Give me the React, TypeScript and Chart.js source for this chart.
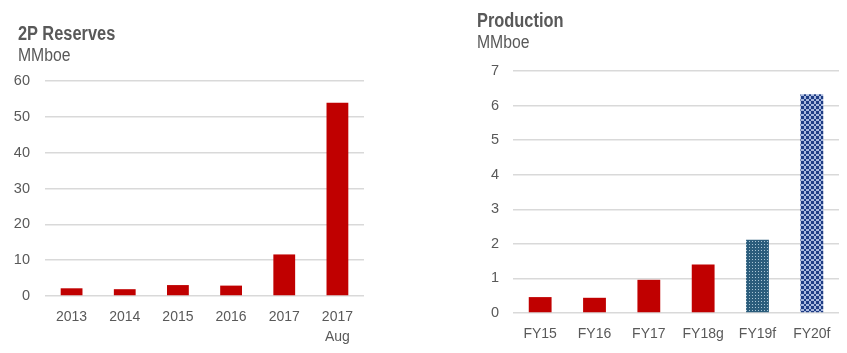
import React, { useEffect, useRef } from "react";
import { Chart, registerables } from "chart.js";

Chart.register(...registerables);

const reserveLabels = [["2013"], ["2014"], ["2015"], ["2016"], ["2017"], ["2017", "Aug"]];
const reserveValues = [2.15, 1.9, 3.05, 2.9, 11.6, 53.9];
const reserveTicks = [0, 10, 20, 30, 40, 50, 60];

const prodLabels = ["FY15", "FY16", "FY17", "FY18g", "FY19f", "FY20f"];
const prodValues = [0.46, 0.44, 0.96, 1.4, 2.12, 6.33];
const prodTicks = [0, 1, 2, 3, 4, 5, 6, 7];

const RED = "#C00000";
const TEXT = "#595959";
const GRID = "#D9D9D9";
const SANS = "'Liberation Sans', Arial, sans-serif";

function dotPattern(): CanvasPattern | string {
  const c = document.createElement("canvas");
  c.width = 3;
  c.height = 3;
  const ctx = c.getContext("2d");
  if (!ctx) return "#2B5D7C";
  ctx.fillStyle = "#2B5D7C";
  ctx.fillRect(0, 0, 3, 3);
  ctx.fillStyle = "#A9C6D6";
  ctx.fillRect(1, 1, 1, 1);
  const p = ctx.createPattern(c, "repeat");
  return p || "#2B5D7C";
}

function circlePattern(): CanvasPattern | string {
  const c = document.createElement("canvas");
  c.width = 5;
  c.height = 5;
  const ctx = c.getContext("2d");
  if (!ctx) return "#1F3D85";
  ctx.fillStyle = "#1F3D85";
  ctx.fillRect(0, 0, 5, 5);
  ctx.fillStyle = "#A8B8DE";
  ctx.fillRect(1, 0, 3, 1);
  ctx.fillRect(0, 1, 1, 3);
  ctx.fillRect(4, 1, 1, 3);
  ctx.fillRect(1, 4, 3, 1);
  const p = ctx.createPattern(c, "repeat");
  return p || "#1F3D85";
}

function makeOptions(ticks: number[], yWidth: number, xHeight: number, padding: any, yPad: number) {
  return {
    responsive: false,
    animation: false as const,
    layout: { padding },
    plugins: { legend: { display: false }, tooltip: { enabled: false }, title: { display: false } },
    scales: {
      x: {
        grid: { display: false, drawTicks: false },
        border: { display: false },
        ticks: { color: TEXT, font: { family: SANS, size: 14, lineHeight: 1.43 }, padding: 11, maxRotation: 0, autoSkip: false },
        afterFit: (s: any) => { s.height = xHeight; },
      },
      y: {
        min: ticks[0],
        max: ticks[ticks.length - 1],
        afterBuildTicks: (s: any) => { s.ticks = ticks.map((v) => ({ value: v })); },
        grid: { color: GRID, lineWidth: 1.5, drawTicks: false },
        border: { display: false },
        ticks: { color: TEXT, font: { family: SANS, size: 14.5 }, padding: yPad },
        afterFit: (s: any) => { s.width = yWidth; },
      },
    },
  };
}

export default function App() {
  const leftRef = useRef<HTMLCanvasElement>(null);
  const rightRef = useRef<HTMLCanvasElement>(null);

  useEffect(() => {
    const left = new Chart(leftRef.current!, {
      type: "bar",
      data: {
        labels: reserveLabels,
        datasets: [{ data: reserveValues, backgroundColor: RED, categoryPercentage: 1, barPercentage: 0.41 }],
      },
      options: makeOptions(reserveTicks, 45, 57, { left: 0, right: 56, top: 81, bottom: 0 }, 15) as any,
    });
    const dp = dotPattern();
    const cp = circlePattern();
    const right = new Chart(rightRef.current!, {
      type: "bar",
      data: {
        labels: prodLabels,
        datasets: [{
          data: prodValues,
          backgroundColor: [RED, RED, RED, RED, dp, cp] as any,
          categoryPercentage: 1,
          barPercentage: 0.42,
        }],
      },
      options: makeOptions(prodTicks, 53, 40, { left: 0, right: 8, top: 71, bottom: 0 }, 14) as any,
    });
    return () => {
      left.destroy();
      right.destroy();
    };
  }, []);

  const title: React.CSSProperties = {
    position: "absolute",
    fontFamily: SANS,
    fontWeight: "bold",
    fontSize: 20,
    lineHeight: "20px",
    color: TEXT,
    whiteSpace: "nowrap",
    transform: "scaleX(0.82)",
    transformOrigin: "0 0",
  };
  const sub: React.CSSProperties = {
    position: "absolute",
    fontFamily: SANS,
    fontSize: 17.5,
    lineHeight: "18px",
    color: TEXT,
    whiteSpace: "nowrap",
    transform: "scaleX(0.9)",
    transformOrigin: "0 0",
  };

  return (
    <div style={{ position: "absolute", left: 0, top: 0, width: 847, height: 353, background: "#fff", overflow: "hidden" }}>
      <canvas ref={leftRef} width={420} height={353} style={{ position: "absolute", left: 0, top: 0 }} />
      <canvas ref={rightRef} width={387} height={353} style={{ position: "absolute", left: 460, top: 0 }} />
      <div style={{ ...title, left: 18, top: 23 }}>2P Reserves</div>
      <div style={{ ...sub, left: 18, top: 46 }}>MMboe</div>
      <div style={{ ...title, left: 477, top: 10 }}>Production</div>
      <div style={{ ...sub, left: 477, top: 33 }}>MMboe</div>
    </div>
  );
}
